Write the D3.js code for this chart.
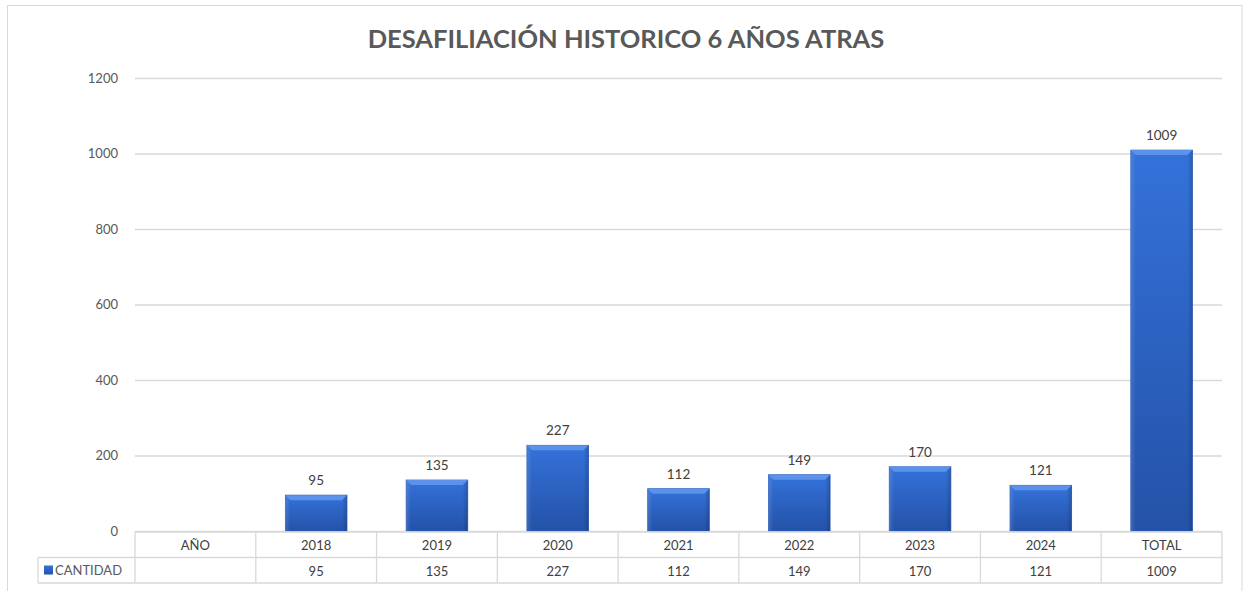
<!DOCTYPE html>
<html>
<head>
<meta charset="utf-8">
<script src="https://cdn.jsdelivr.net/npm/d3@7"></script>
<style>
  body { margin: 0; background: #fff; }
  text { font-family: Lato, "Liberation Sans", sans-serif; }
</style>
</head>
<body>
<svg id="app" width="1243" height="591"></svg>
<script>
// datos
const title = "DESAFILIACIÓN HISTORICO 6 AÑOS ATRAS";
const categories = ["AÑO", "2018", "2019", "2020", "2021", "2022", "2023", "2024", "TOTAL"];
const cantidad = [null, 95, 135, 227, 112, 149, 170, 121, 1009];
const seriesName = "CANTIDAD";
const yTicks = [0, 200, 400, 600, 800, 1000, 1200];

const W = 1243, H = 591;
const PLOT = { LEFT: 135, RIGHT: 1222, TOP: 78, BOTTOM: 531 };
const ROW_H = 25.5;
const TABLE_LEFT = 38;

const svg = d3.select("#app");

// marco
svg.append("rect")
  .attr("x", 7.5).attr("y", 5.5)
  .attr("width", 1242 - 7.5).attr("height", 600)
  .attr("fill", "#fff").attr("stroke", "#d9d9d9");

svg.append("text")
  .attr("x", 626).attr("y", 48)
  .attr("text-anchor", "middle")
  .attr("font-size", 25.5).attr("font-weight", "bold")
  .attr("fill", "#595959")
  .text(title);

const xScale = d3.scaleBand()
  .domain(categories)
  .range([PLOT.LEFT, PLOT.RIGHT])
  .padding(0);

const yScale = d3.scaleLinear()
  .domain([0, 1200])
  .range([PLOT.BOTTOM, PLOT.TOP]);

// grid
const yAxis = d3.axisLeft(yScale)
  .tickValues(yTicks)
  .tickFormat(d3.format("d"))
  .tickSize(-(PLOT.RIGHT - PLOT.LEFT))
  .tickPadding(17);

const gy = svg.append("g")
  .attr("transform", `translate(${PLOT.LEFT},0)`)
  .call(yAxis);
gy.select(".domain").remove();
gy.selectAll(".tick line").attr("stroke", "#d9d9d9").attr("stroke-width", 1.3);
gy.selectAll(".tick text")
  .attr("fill", "#595959").attr("font-size", 13)
  .attr("font-family", "Lato, sans-serif");

// degradados
const defs = svg.append("defs");
const grad = defs.append("linearGradient").attr("id", "barGrad")
  .attr("x1", 0).attr("y1", 0).attr("x2", 0).attr("y2", 1);
grad.append("stop").attr("offset", "0%").attr("stop-color", "#3472da");
grad.append("stop").attr("offset", "100%").attr("stop-color", "#2452a8");

const hgrad = defs.append("linearGradient").attr("id", "barSide")
  .attr("x1", 0).attr("y1", 0).attr("x2", 1).attr("y2", 0);
hgrad.append("stop").attr("offset", "0%").attr("stop-color", "#fff").attr("stop-opacity", 0.12);
hgrad.append("stop").attr("offset", "8%").attr("stop-color", "#fff").attr("stop-opacity", 0);
hgrad.append("stop").attr("offset", "92%").attr("stop-color", "#000").attr("stop-opacity", 0);
hgrad.append("stop").attr("offset", "100%").attr("stop-color", "#000").attr("stop-opacity", 0.18);

const barData = categories.map((c, i) => ({ cat: c, val: cantidad[i] }))
  .filter(d => d.val != null);

const bw = xScale.bandwidth() * 0.51;
const bx = d => xScale(d.cat) + (xScale.bandwidth() - bw) / 2;

const bars = svg.append("g").selectAll("g")
  .data(barData)
  .enter()
  .append("g");

bars.append("rect")
  .attr("x", bx)
  .attr("y", d => yScale(d.val))
  .attr("width", bw)
  .attr("height", d => yScale(0) - yScale(d.val))
  .attr("fill", "url(#barGrad)")
  .attr("stroke", "#2a5cb8").attr("stroke-width", 0.8);

bars.append("rect")
  .attr("x", bx)
  .attr("y", d => yScale(d.val))
  .attr("width", bw)
  .attr("height", d => yScale(0) - yScale(d.val))
  .attr("fill", "url(#barSide)");

// bisel superior
bars.append("path")
  .attr("d", d => {
    const x0 = bx(d), y0 = yScale(d.val), b = 5;
    return `M${x0},${y0}L${x0 + bw},${y0}L${x0 + bw - b},${y0 + b}L${x0 + b},${y0 + b}Z`;
  })
  .attr("fill", "#5d92ea");

bars.append("text")
  .attr("x", d => xScale(d.cat) + xScale.bandwidth() / 2)
  .attr("y", d => yScale(d.val) - 10)
  .attr("text-anchor", "middle")
  .attr("font-size", 13.5)
  .attr("fill", "#404040")
  .text(d => d.val);

// tabla de datos
const tbl = svg.append("g");
const y0 = PLOT.BOTTOM + 1, y1 = y0 + ROW_H, y2 = y1 + ROW_H;
const lineColor = "#d9d9d9";

tbl.append("line").attr("x1", PLOT.LEFT).attr("x2", PLOT.RIGHT)
  .attr("y1", y0).attr("y2", y0).attr("stroke", lineColor).attr("stroke-width", 1.3);
tbl.append("line").attr("x1", TABLE_LEFT).attr("x2", PLOT.RIGHT)
  .attr("y1", y1).attr("y2", y1).attr("stroke", lineColor).attr("stroke-width", 1.3);
tbl.append("line").attr("x1", TABLE_LEFT).attr("x2", PLOT.RIGHT)
  .attr("y1", y2).attr("y2", y2).attr("stroke", lineColor).attr("stroke-width", 1.3);
tbl.append("line").attr("x1", TABLE_LEFT).attr("x2", TABLE_LEFT)
  .attr("y1", y1).attr("y2", y2).attr("stroke", lineColor).attr("stroke-width", 1.3);

tbl.selectAll(".vline")
  .data(categories.concat(["end"]))
  .enter()
  .append("line")
  .attr("x1", (d, i) => i < categories.length ? xScale(d) : PLOT.RIGHT)
  .attr("x2", (d, i) => i < categories.length ? xScale(d) : PLOT.RIGHT)
  .attr("y1", y0).attr("y2", y2)
  .attr("stroke", lineColor).attr("stroke-width", 1.3);

tbl.selectAll(".hdr")
  .data(categories)
  .enter()
  .append("text")
  .attr("x", d => xScale(d) + xScale.bandwidth() / 2)
  .attr("y", y0 + 18)
  .attr("text-anchor", "middle")
  .attr("font-size", 13)
  .attr("fill", "#404040")
  .text(d => d);

tbl.selectAll(".val")
  .data(categories.map((c, i) => ({ cat: c, val: cantidad[i] })))
  .enter()
  .append("text")
  .attr("x", d => xScale(d.cat) + xScale.bandwidth() / 2)
  .attr("y", y1 + 18)
  .attr("text-anchor", "middle")
  .attr("font-size", 13)
  .attr("fill", "#404040")
  .text(d => d.val == null ? "" : d.val);

// leyenda
tbl.append("rect")
  .attr("x", 44).attr("y", y1 + 8).attr("width", 9).attr("height", 9)
  .attr("fill", "url(#barGrad)");
tbl.append("text")
  .attr("x", 55).attr("y", y1 + 17)
  .attr("font-size", 13)
  .attr("fill", "#595959")
  .text(seriesName);
</script>
</body>
</html>
